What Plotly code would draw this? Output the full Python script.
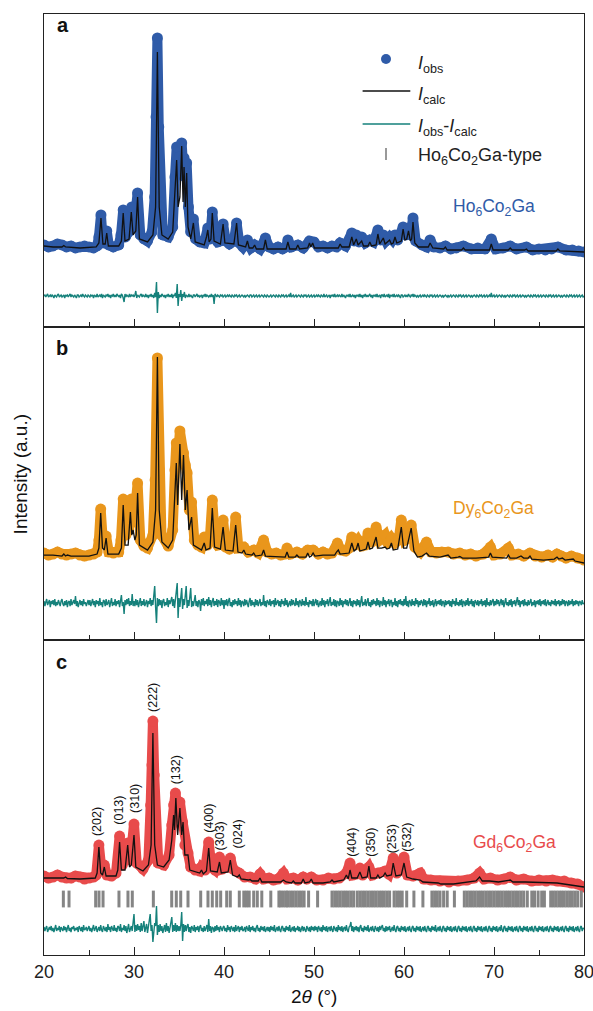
import numpy as np
import plotly.graph_objects as go
from plotly.subplots import make_subplots

# ---------------- data (intensity in arbitrary units) ----------------
calc_a = [(20, 81), (21, 80), (22.0, 80), (22.2, 81.5), (22.4, 80), (24, 79), (25.8, 80), (26.1, 84), (26.33, 109),
          (26.55, 83), (26.8, 83), (26.97, 94), (27.15, 81), (28.3, 81), (28.6, 86), (28.8, 114), (29.0, 86),
          (29.45, 88), (29.7, 115), (29.9, 92), (30.2, 96), (30.4, 130), (30.6, 88), (31.5, 85), (32.1, 92),
          (32.4, 120), (32.6, 275), (32.8, 120), (33.1, 92), (33.8, 88), (34.3, 95), (34.55, 130), (34.74, 167),
          (34.9, 120), (35.1, 130), (35.3, 181), (35.45, 125), (35.56, 160), (35.7, 120), (35.85, 154), (36.0, 100),
          (36.3, 88), (36.6, 104), (36.8, 85), (37.8, 82), (38.05, 90), (38.2, 97), (38.35, 85), (38.55, 88),
          (38.7, 114), (38.9, 86), (39.6, 83), (39.9, 103), (40.1, 84), (41.1, 83), (41.4, 104), (41.6, 82),
          (42.4, 80), (42.6, 86), (42.8, 79), (43.2, 79), (43.4, 82), (43.6, 78), (44.4, 78), (44.6, 87), (44.8, 78),
          (46.9, 78), (47.1, 85), (47.3, 78), (48.0, 78), (48.2, 82), (48.4, 78), (49.3, 79), (49.5, 84),
          (49.65, 80), (49.85, 84), (50.05, 79), (52.7, 79), (52.9, 83), (53.1, 80), (53.9, 80), (54.2, 90),
          (54.4, 82), (54.7, 88), (54.9, 82), (55.3, 86), (55.5, 81), (56.0, 81), (56.2, 85), (56.4, 81), (56.9, 82),
          (57.1, 93), (57.3, 83), (57.7, 89), (57.9, 83), (58.4, 87), (58.6, 83), (58.8, 84), (59.0, 90), (59.2, 84),
          (59.7, 86), (59.9, 98), (60.1, 87), (60.3, 88), (60.5, 96), (60.7, 86), (60.85, 88), (61.0, 105),
          (61.2, 84), (61.6, 80), (62.7, 80), (62.9, 84), (63.2, 79), (64.4, 78), (64.6, 80), (64.8, 77), (66.4, 77),
          (66.6, 79), (66.8, 77), (69.5, 77), (69.7, 83), (69.9, 77), (71.6, 77), (71.8, 79), (72, 77), (73.4, 77),
          (73.6, 78), (73.8, 76), (76.9, 76), (77.1, 78), (77.3, 76), (80, 75)]

obs_a = [(20, 82), (20.5, 80), (21, 81), (21.5, 83), (22, 82), (22.5, 80), (23, 81), (23.5, 79), (24, 80),
         (24.5, 81), (25, 80), (25.5, 79), (25.9, 81), (26.1, 90), (26.33, 112),
         (26.55, 84), (26.97, 96), (27.2, 82), (27.7, 80), (28.3, 82), (28.55, 92), (28.8, 117), (29.05, 90),
         (29.4, 95), (29.75, 120), (30.0, 100), (30.4, 134), (30.7, 92), (31.1, 88), (31.5, 86), (32.0, 95),
         (32.3, 130), (32.45, 210), (32.6, 289), (32.75, 200), (32.9, 120), (33.2, 92), (33.8, 90), (34.3, 100),
         (34.55, 150), (34.74, 180), (34.9, 165), (35.05, 170), (35.3, 184), (35.45, 160), (35.56, 169),
         (35.7, 150), (35.85, 164), (36.05, 120), (36.3, 95), (36.6, 108), (36.85, 88), (37.3, 85), (37.8, 84),
         (38.2, 99), (38.45, 88), (38.7, 115), (38.95, 90), (39.3, 85), (39.6, 86), (39.9, 103), (40.2, 86),
         (40.6, 83), (41.1, 86), (41.4, 104), (41.7, 84), (42.1, 80), (42.6, 87), (43.0, 79), (43.4, 82),
         (44.0, 78), (44.6, 89), (45, 80), (45.5, 78), (46.0, 80), (46.5, 78), (46.9, 80), (47.1, 87), (47.5, 80),
         (48.2, 82), (48.8, 79), (49.5, 86), (50, 85), (50.5, 80), (51.0, 81), (51.5, 79), (52.0, 81),
         (52.5, 80), (52.9, 84), (53.5, 81), (54.2, 94), (54.45, 86), (54.7, 92), (55.0, 85), (55.3, 90),
         (55.7, 84), (56.2, 87), (56.6, 85), (57.1, 97), (57.4, 87), (57.7, 92), (58.0, 86), (58.4, 90),
         (58.7, 87), (59.0, 92), (59.3, 87), (59.9, 100), (60.2, 92), (60.5, 99), (60.75, 92), (61.0, 109),
         (61.3, 86), (62.0, 82), (62.5, 80), (62.9, 87), (63.3, 80), (64.0, 79), (64.6, 81), (65.2, 78),
         (65.8, 79), (66.6, 81), (67.5, 78), (68.2, 79), (69.0, 78), (69.7, 88), (70.2, 78), (71.0, 79),
         (71.8, 81), (72.5, 78), (73.6, 80), (74.3, 77), (75, 78), (75.7, 77), (76.4, 78), (77.1, 80), (78, 77),
         (78.7, 77), (79.4, 76), (80, 75)]

calc_b = [(20, 85), (21, 85), (22, 84), (22.2, 86), (22.4, 84), (22.6, 85), (23, 84), (25, 84), (25.9, 86),
          (26.1, 92), (26.3, 127), (26.5, 92), (26.7, 90), (26.9, 102), (27.1, 86), (28.3, 86), (28.6, 92),
          (28.8, 135), (29.0, 95), (29.35, 95), (29.6, 128), (29.75, 105), (29.9, 110), (30.1, 100), (30.25, 105),
          (30.4, 147), (30.6, 95), (31.5, 90), (32.1, 98), (32.4, 130), (32.6, 283), (32.8, 130), (33.1, 98),
          (33.8, 92), (34.3, 100), (34.55, 140), (34.7, 177), (34.85, 135), (35.1, 196), (35.3, 140), (35.5, 185),
          (35.7, 130), (35.9, 150), (36.1, 110), (36.4, 123), (36.6, 95), (37.5, 90), (37.8, 97), (38.0, 90),
          (38.45, 92), (38.7, 132), (38.95, 93), (39.6, 91), (39.9, 113), (40.15, 90), (41.0, 89), (41.3, 115),
          (41.55, 88), (42.0, 87), (42.2, 90), (42.4, 86), (43.1, 85), (43.3, 87), (43.5, 84), (44.2, 85),
          (44.4, 90), (44.6, 84), (46.8, 83), (47.0, 88), (47.2, 83), (47.9, 83), (48.1, 85), (48.3, 83),
          (49.1, 83), (49.3, 87), (49.5, 83), (49.7, 84), (49.9, 87), (50.1, 84), (51, 85), (52.3, 85), (52.5, 88),
          (52.7, 90), (52.9, 86), (53.9, 87), (54.2, 97), (54.45, 89), (54.7, 91), (54.9, 97), (55.1, 89),
          (55.5, 90), (55.8, 91), (56.0, 98), (56.2, 91), (56.5, 92), (56.9, 103), (57.1, 92), (57.5, 92),
          (57.9, 93), (58.1, 91), (58.4, 92), (58.6, 97), (58.8, 90), (59.3, 91), (59.7, 113), (59.95, 92),
          (60.3, 92), (60.8, 112), (61.1, 89), (61.5, 83), (62.0, 84), (62.5, 87), (62.8, 84), (64.0, 83),
          (64.9, 85), (65.2, 82), (66.0, 83), (66.2, 83.5), (66.5, 82), (68, 82), (69.4, 83), (69.6, 87),
          (69.8, 83), (71.4, 82), (71.6, 85), (71.8, 82), (72.5, 82), (73.0, 84), (73.3, 82), (73.8, 82),
          (74.0, 84), (74.2, 81), (75.5, 80), (76.7, 81), (77.0, 83), (77.2, 81), (77.6, 82), (77.9, 80),
          (78.8, 81), (79, 79), (80, 77)]

obs_b = [(20, 87), (20.5, 85), (21, 86), (21.5, 88), (22, 86), (22.5, 85), (23, 86), (23.5, 87), (24, 85),
         (24.5, 84), (25, 85), (25.5, 86), (25.9, 88), (26.1, 100), (26.3, 131),
         (26.55, 97), (26.9, 104), (27.2, 88), (27.7, 87), (28.3, 88), (28.55, 100), (28.8, 141), (29.1, 105),
         (29.4, 110), (29.7, 141), (30.0, 118), (30.4, 157), (30.7, 100), (31.1, 94), (31.5, 92), (32.1, 105),
         (32.35, 160), (32.6, 282), (32.8, 170), (33.05, 105), (33.8, 94), (34.3, 110), (34.55, 170), (34.7, 197),
         (34.9, 185), (35.1, 209), (35.3, 190), (35.5, 187), (35.7, 175), (35.9, 167), (36.15, 130), (36.4, 138),
         (36.7, 100), (37.1, 95), (37.5, 93), (37.8, 103), (38.15, 95), (38.45, 105), (38.7, 140), (39.0, 100),
         (39.3, 95), (39.6, 96), (39.9, 120), (40.2, 93), (40.6, 91), (41.0, 93), (41.3, 123), (41.6, 92),
         (42.2, 93), (42.7, 88), (43.3, 90), (43.8, 87), (44.4, 100), (44.8, 88), (45.3, 86), (45.8, 87),
         (46.3, 85), (46.8, 86), (47.0, 92), (47.4, 86), (48.1, 88), (48.7, 86), (49.3, 90), (49.9, 90),
         (50.5, 86), (51.0, 88), (51.5, 86), (52.0, 87), (52.6, 97), (53.0, 90), (53.5, 89), (53.9, 92),
         (54.2, 103), (54.5, 95), (54.9, 100), (55.3, 94), (55.7, 95), (56.0, 107), (56.4, 98), (56.9, 113),
         (57.3, 100), (57.9, 105), (58.2, 97), (58.6, 102), (59.0, 97), (59.4, 100), (59.7, 120), (60.1, 100),
         (60.4, 102), (60.8, 115), (61.2, 93), (61.8, 88), (62.5, 98), (63.0, 88), (63.6, 87), (64.2, 88),
         (64.9, 88), (65.5, 86), (66.2, 87), (66.8, 85), (67.4, 86), (68, 84), (68.8, 86), (69.6, 93), (70.0, 85),
         (70.7, 86), (71.6, 92), (72.0, 85), (72.7, 86), (73.3, 84), (74.0, 87), (74.6, 84), (75.3, 83),
         (76.0, 85), (76.5, 83), (77.0, 86), (77.5, 84), (78, 82), (78.6, 84), (79.3, 82), (80, 80)]

calc_c = [(20, 77), (21, 77), (22.2, 77), (22.4, 78), (22.6, 76.5), (24, 76), (25.7, 77), (25.9, 82), (26.1, 108),
          (26.3, 82), (26.5, 80), (26.7, 88), (26.9, 79), (28.0, 79), (28.2, 85), (28.4, 113), (28.6, 85),
          (29.0, 85), (29.3, 110), (29.5, 88), (29.7, 90), (30.0, 120), (30.2, 88), (31.0, 84), (31.6, 90),
          (31.9, 110), (32.1, 222), (32.3, 110), (32.6, 90), (33.3, 88), (33.9, 95), (34.2, 115), (34.4, 140),
          (34.5, 125), (34.65, 157), (34.85, 120), (35.1, 147), (35.3, 120), (35.45, 133), (35.65, 100),
          (36.0, 100), (36.2, 85), (37.3, 82), (37.5, 85), (37.7, 81), (38.05, 84), (38.3, 107), (38.5, 84),
          (39.25, 83), (39.5, 93), (39.7, 82), (40.45, 83), (40.7, 95), (40.95, 80), (41.5, 78), (41.7, 80),
          (41.9, 76), (42.7, 75), (42.9, 75.5), (43.1, 74), (43.8, 74), (44.0, 77), (44.2, 73), (46.3, 73),
          (46.6, 75), (46.9, 73), (47.5, 72), (47.7, 74), (47.9, 72), (48.6, 72), (48.8, 76), (49.0, 72),
          (49.5, 73), (49.7, 76), (49.9, 72), (51.0, 72), (51.8, 73), (52.0, 75), (52.2, 73), (53.3, 75),
          (53.6, 80), (53.8, 76), (54.0, 85), (54.2, 77), (54.8, 77), (55.1, 83), (55.35, 77), (55.9, 78),
          (56.1, 89), (56.3, 77), (56.9, 77), (57.1, 80), (57.3, 77), (57.7, 79), (57.9, 82), (58.1, 79),
          (58.6, 80), (58.8, 92), (59.1, 79), (59.7, 80), (60.0, 92), (60.3, 78), (61.0, 76), (61.8, 75),
          (62.1, 73), (63.8, 72), (64.1, 71), (65.5, 71), (66.5, 72), (68.0, 74), (68.4, 78), (68.7, 74),
          (69.5, 74), (70.5, 73), (71.8, 75), (72.1, 73), (73.5, 73), (75.7, 72), (77.0, 72), (78.5, 70), (80, 68)]

obs_c = [(20, 79), (20.5, 77), (21, 78), (21.5, 80), (22, 78), (22.5, 77), (23, 77), (23.5, 79), (24, 78),
         (24.5, 76), (25, 77), (25.5, 78), (25.8, 80), (26.1, 110), (26.4, 84),
         (26.7, 90), (27.0, 80), (27.5, 79), (28.0, 82), (28.4, 119), (28.7, 90), (29.3, 112), (29.6, 95),
         (30.0, 131), (30.3, 92), (31.0, 86), (31.6, 95), (31.85, 150), (32.0, 190), (32.1, 234), (32.25, 180),
         (32.4, 120), (32.7, 92), (33.3, 90), (33.9, 100), (34.2, 130), (34.4, 150), (34.6, 162), (34.8, 150),
         (35.1, 153), (35.4, 133), (35.65, 110), (36.0, 102), (36.3, 88), (36.8, 85), (37.3, 84), (37.5, 88),
         (37.9, 85), (38.3, 113), (38.6, 88), (39.0, 85), (39.5, 98), (39.8, 86), (40.4, 88), (40.7, 97),
         (41.0, 86), (41.7, 82), (42.3, 78), (42.9, 78), (43.5, 76), (44.0, 81), (44.4, 76), (45.0, 77),
         (45.5, 75), (46.0, 76), (46.6, 82), (47.0, 76), (47.7, 77), (48.2, 75), (48.8, 78), (49.2, 76),
         (49.7, 78), (50.3, 75), (51.0, 75), (51.6, 77), (52.2, 76), (52.8, 77), (53.6, 82), (54.0, 92),
         (54.3, 80), (54.7, 81), (55.1, 87), (55.4, 80), (56.1, 88), (56.5, 80), (57.1, 82), (57.9, 84),
         (58.3, 81), (58.8, 97), (59.2, 82), (60.0, 98), (60.4, 80), (61.0, 79), (61.8, 82), (62.2, 76),
         (63.0, 75), (64, 74), (65.0, 73), (66, 74), (67.0, 75), (67.8, 77), (68.4, 82), (68.9, 76), (69.6, 77),
         (70.4, 75), (71.1, 76), (71.8, 78), (72.5, 75), (73.3, 76), (74.2, 74), (75, 75), (75.8, 74), (76.5, 75),
         (77, 74), (77.8, 74), (78.6, 72), (79.3, 71), (80, 68)]

# difference curves: 0.1 deg steps, one list per 5-deg block (start angle is the key)
diff_a = {
    20: [0, 1, -1, 0, 2, -1, 0, 1, -1, 1, 0, -2, 1, 0, -1, 1, 2, -1, 0, 1, -1, 0, 1, -2, 1, 0, 1, -1, 0, 2, -1, 1, 0, -1, 1, 0, -2, 1, 1, -1, 0, 1, -1, 2, 0, -1, 1, 0, -1, 1],
    25: [0, -1, 1, 0, 1, -2, 1, 0, -1, 2, -1, 0, 1, -1, 2, -2, 1, 0, -1, 1, 0, 2, -1, 1, -2, 1, 0, 2, -1, 1, -1, 2, 0, -1, 1, -2, 2, 1, -2, -6, 2, -1, 1, 0, -1, 2, -1, 1, 0, 1],
    30: [-1, 1, 5, -2, 1, 0, -1, 1, 2, -1, 1, 0, -1, 2, -1, 1, -2, 1, 0, 2, -1, 1, -2, 3, -1, 14, -17, 4, -2, 1, -1, 2, 0, -1, 1, -2, 1, 0, 2, -1, 1, -1, 2, -2, 1, 0, 3, -2, 12, -10],
    35: [2, -1, 6, -5, 2, -1, 4, -2, 1, 0, -1, 2, -1, 1, 0, -2, 1, 1, -1, 0, 2, -1, 1, -1, 0, 1, -2, 1, 0, 2, -1, 1, 0, -1, 1, -1, 2, -1, 1, -8, 2, 0, -1, 1, 0, -1, 1, 0, 1, -1],
    40: [0, 1, -1, 0, 1, -1, 1, 0, -1, 1, 0, -1, 1, 0, 1, -1, 0, 1, -1, 0, 1, 0, -1, 1, -1, 0, 1, 0, -1, 1, 1, -1, 0, 1, -1, 0, 1, -1, 0, 1, -1, 0, 1, 0, -1, 1, 0, -1, 1, 0],
    45: [-1, 0, 1, -1, 0, 1, 0, -1, 1, 0, -1, 1, 0, -1, 1, 0, 1, -1, 0, 1, -1, 0, 1, -1, 3, -1, 0, 1, -1, 0, 1, -1, 0, 1, 0, -1, 1, 0, -1, 1, 0, 1, -1, 0, 1, -1, 0, 1, -1, 0],
    50: [1, -1, 0, 1, -1, 1, 0, -1, 1, 0, -1, 2, -1, 0, 1, -1, 0, 1, -2, 1, 0, 1, -1, 2, -1, 0, 1, -1, 1, 0, -1, 2, -1, 1, 0, -2, 1, 0, 1, -1, 2, -1, 0, 1, -1, 1, -2, 1, 0, 1],
    55: [-1, 2, -1, 1, -2, 1, 0, 2, -1, 1, -1, 0, 2, -1, 1, -2, 1, 0, 1, -1, 2, -1, 0, 1, -2, 1, 1, -1, 2, -1, 0, 1, -1, 2, -2, 1, 0, 1, -1, 2, -1, 0, 1, -1, 1, 0, -2, 1, 1, -1],
    60: [0, 1, -1, 1, -1, 2, 0, -1, 1, 0, 2, -1, 1, 0, -1, 1, -1, 0, 1, -1, 0, 1, -1, 1, 0, -1, 1, 0, -1, 1, 0, 1, -1, 0, 1, -1, 0, 1, -1, 0, 1, 0, -1, 1, -1, 0, 1, 0, -1, 1],
    65: [-1, 0, 1, -1, 0, 1, 0, -1, 1, 0, -1, 1, 0, 1, -1, 0, 1, -1, 0, 1, -1, 0, 1, 0, -1, 1, -1, 0, 1, 0, -1, 1, 0, -1, 1, 0, 1, -1, 0, 1, -1, 0, 1, -1, 0, 1, -1, 3, -1, 0],
    70: [1, -1, 0, 1, -1, 0, 1, 0, -1, 1, 0, -1, 1, -1, 0, 1, 0, -1, 1, 0, -1, 1, 0, 1, -1, 0, 1, -1, 0, 1, -1, 0, 1, 0, -1, 1, -1, 0, 1, 0, -1, 1, 0, -1, 1, 0, 1, -1, 0, 1],
    75: [-1, 0, 1, -1, 0, 1, 0, -1, 1, 0, -1, 1, 0, 1, -1, 0, 1, -1, 0, 1, -1, 0, 1, 0, -1, 1, -1, 0, 1, 0, -1, 1, 0, -1, 1, 0, 1, -1, 0, 1, -1, 0, 1, -1, 0, 1, -1, 0, 1, -1, 0],
}

diff_b = {
    20: [2, -3, 1, 4, -2, 0, 3, -4, 2, -1, 3, -2, 4, -3, 1, -2, 3, 0, -3, 2, 4, -1, -3, 2, -2, 3, -4, 1, 2, -3, 4, -2, 0, 3, -1, 7, -3, 2, -4, 1, 3, -2, 2, -3, 4, -1, 1, -3, 2, 3],
    25: [-2, 3, -3, 1, 4, -2, 2, -4, 3, -1, 2, -3, 5, -2, 1, -4, 3, 2, -3, 4, -2, 0, 3, -4, 2, 5, -3, 1, -2, 4, -3, 2, -1, 3, -4, 2, 8, -3, 1, -11, 3, -2, 4, -1, 5, -3, 2, -2, 9, -3],
    30: [2, -3, 4, -2, 3, -4, 1, 5, -3, 2, -2, 4, -3, 1, 3, -4, 2, -1, 5, -3, 3, -2, 6, 17, -4, -20, 5, -3, 4, -2, 3, -5, 2, 4, -3, 1, -2, 5, -4, 3, -1, 2, 6, -3, 4, -5, 3, 8, 20, -15],
    35: [5, -4, 3, 15, -6, 4, -2, 5, 17, -5, 3, -3, 4, 15, -4, 2, -3, 5, 8, -3, 2, -4, 3, 1, -8, 4, -2, 5, -3, 2, -1, 4, -3, 6, -2, 3, -4, 2, 5, -3, 2, -2, 4, -4, 3, 1, -3, 5, -2, 3],
    40: [-6, 3, -2, 4, -3, 2, 5, -3, 1, -4, 3, -2, 4, -1, 2, -3, 5, -2, 3, -4, 2, 1, -3, 4, -2, 3, -1, -4, 2, 5, -3, 3, -2, 1, -4, 4, -2, 3, -3, 2, 4, -3, 1, -2, 8, -3, 2, -4, 3, 1],
    45: [-2, 4, -3, 2, -1, 3, -4, 5, -2, 1, 3, -3, 2, -4, 4, -1, 2, -3, 5, -2, 3, -4, 1, 2, -3, 4, -2, 3, -1, -3, 5, -2, 2, -4, 3, 1, -3, 4, -2, 2, -3, 6, -2, 1, -4, 3, -1, 2, -3, 4],
    50: [-3, 2, 4, -2, 3, -4, 1, 2, -3, 5, -2, 3, -4, 2, -1, 4, -3, 2, 6, -3, 1, -2, 4, -3, 3, -4, 2, 1, -3, 5, -2, 3, -4, 2, -1, 4, -2, 3, -3, 1, 5, -3, 2, -4, 3, -1, 2, -3, 4, -2],
    55: [3, -4, 2, 7, -3, 1, -2, 4, -3, 2, 5, -3, 1, -4, 3, -2, 4, -1, 2, -3, 5, -2, 3, -4, 2, 1, -3, 6, -2, 3, -4, 2, -1, 4, -3, 2, 3, -4, 1, -2, 5, -3, 2, -4, 3, -1, 4, -2, 2, -3],
    60: [4, -2, 7, -3, 2, -4, 3, 1, -3, 4, -2, 2, -3, 5, -1, 3, -4, 2, -2, 3, 1, -3, 4, -2, 3, -4, 2, -1, 5, -3, 2, -2, 3, -4, 1, 4, -3, 2, -1, 3, -2, 4, -3, 2, 1, -4, 3, -2, 2, -1],
    65: [3, -3, 2, -4, 4, -1, 2, -3, 5, -2, 1, -3, 3, -2, 4, -4, 2, 1, -3, 3, -2, 5, -3, 2, -1, 4, -3, 2, -4, 3, 1, -2, 3, -3, 2, -1, 4, -3, 2, -2, 3, -4, 5, -2, 1, -3, 3, -2, 2, 4],
    70: [-3, 2, -2, 4, -1, 3, -3, 2, 4, -2, 3, -4, 2, 5, -2, 1, -3, 3, -2, 4, -4, 2, -1, 3, -3, 2, 6, -2, 3, -4, 2, -1, 3, -3, 4, -2, 1, -3, 3, -2, 2, 4, -3, 1, -2, 3, -4, 2, -1, 3],
    75: [-2, 4, -3, 2, -1, 3, -2, 4, -3, 2, 3, -2, 1, -3, 3, -1, 2, -2, 4, -3, 2, -1, 3, -3, 2, -2, 4, -1, 3, -3, 2, 1, -3, 3, -2, 2, -1, 4, -3, 2, -2, 3, -1, 2, -3, 2, 1, -2, 3, -1, 0],
}

diff_c = {
    20: [2, -2, 1, 3, -3, 0, 2, -1, 3, -2, 1, -3, 2, 4, -2, 1, -1, 3, -3, 2, 0, -2, 3, -1, 2, -3, 1, 4, -2, 1, -3, 2, 0, 3, -2, 1, -1, 2, -3, 3, 1, -2, 2, -3, 4, -1, 0, 2, -2, 1],
    25: [3, -2, 1, -3, 2, 4, -2, 0, 3, -3, 1, 2, -2, 4, -1, -3, 3, 1, -2, 2, -3, 5, -1, 2, -3, 3, 0, -2, 4, -2, 1, -3, 3, 2, -2, 5, -3, 1, -1, 4, -2, 3, -4, 2, 5, -3, 1, 3, -2, 4],
    30: [15, -3, 4, -2, 5, -1, 3, -3, 6, -2, 4, 8, -3, 2, 5, -4, 3, 6, 15, -2, 4, -13, -5, 6, 3, 23, -6, 4, -3, 5, -2, 3, -4, 2, 4, -3, 6, -2, 3, -4, 2, 5, 12, -3, 4, -2, 6, -3, 4, -2],
    35: [3, -2, 4, 17, -12, 5, -3, 4, -2, 3, 5, -3, 2, -4, 3, 1, -2, 4, -3, 2, -1, 3, -3, 2, 4, -2, 1, -3, 3, -2, 2, 4, -3, 10, -2, 3, -4, 2, 1, -3, 3, -2, 4, -1, 2, -3, 3, 1, -2, 2],
    40: [3, -2, 1, -3, 4, -1, 2, -3, 3, 1, -2, 2, -3, 4, -2, 1, 3, -3, 2, -1, 3, -2, -1, 2, -3, 3, 1, -2, 4, -3, 2, -1, 3, -2, 1, -3, 2, 4, -2, 1, -3, 3, -1, 2, -2, 3, -3, 1, 2, -2],
    45: [2, -3, 3, -1, 2, -2, 4, -3, 1, 2, -2, 3, -1, -3, 2, 3, -2, 1, -3, 3, -1, 2, -2, 4, -3, 1, 2, -2, 3, -3, 1, -1, 3, -2, 2, -3, 1, 3, -2, 2, -1, -3, 3, 1, -2, 2, -3, 3, -1, 2],
    50: [-2, 3, -1, 2, -3, 3, 1, -2, 2, -3, 4, -1, 2, -2, 3, -3, 1, 2, -2, 3, -1, -3, 3, 1, -2, 2, -3, 4, -1, 2, -2, 3, -3, 1, 2, -2, 4, -1, -3, 2, 3, 7, -2, 3, -3, 2, -1, 3, -2, 2],
    55: [-3, 2, 4, -2, 1, -3, 3, -1, 2, -2, 4, -3, 1, 2, -2, 3, -1, -3, 3, 1, -2, 2, -3, 3, -1, 2, 4, -2, 1, -3, 3, -2, 2, -1, 3, -3, 1, 2, -2, 4, -1, -3, 2, 3, -2, 1, -3, 3, -1, 2],
    60: [-2, 3, -3, 1, 2, -2, 3, -1, -3, 2, 3, -2, 1, -3, 3, -1, 2, -2, 3, -3, 1, 2, -2, 3, -1, -3, 2, 3, -2, 1, -3, 3, -1, 2, -2, 4, -3, 1, 2, -2, 3, -1, -3, 2, 3, -2, 1, -3, 3, -1],
    65: [2, -2, 3, -3, 1, 2, -2, 3, -1, -3, 2, 3, -2, 1, -3, 3, -1, 2, -2, 3, -3, 1, 2, -2, 3, -1, -3, 2, 3, -2, 1, -3, 3, -1, 2, -2, 3, -3, 1, 2, -2, 3, -1, -3, 2, 3, -2, 1, -3, 3],
    70: [-1, 2, -2, 3, -3, 1, 2, -2, 4, -1, -3, 2, 3, -2, 1, -3, 3, -1, 2, -2, 3, -3, 1, 2, -2, 3, -1, -3, 2, 3, -2, 1, -3, 3, -1, 2, -2, 3, -3, 1, 2, -2, 3, -1, -3, 2, 3, -2, 1, -3],
    75: [3, -1, 2, -2, 3, -3, 1, 2, -2, 3, -1, -3, 2, 3, -2, 1, -3, 3, -1, 2, -2, 3, -3, 1, 2, -2, 3, -1, -3, 2, 3, -2, 1, -3, 3, -1, 2, -2, 3, -3, 1, 2, -2, 3, -1, -3, 2, 3, -2, 1, 0],
}

bragg_c = [22.15, 22.78, 25.74, 26.11, 26.56, 28.33, 29.33, 29.81, 32.15, 34.19, 34.70, 35.19, 36.0,
           37.41, 38.22, 38.70, 39.19, 39.63, 40.3, 40.7, 41.7, 42.2, 42.5, 42.8, 43.3, 43.7, 44.2, 45.2,
           46.1, 46.3, 46.6, 46.9, 47.1, 47.4, 47.7, 48.0, 48.3, 48.6, 48.9, 49.4, 50.4,
           52.0, 52.3, 52.6, 52.9, 53.2, 53.5, 53.8, 54.1, 54.4, 54.8, 55.1, 55.4, 55.7, 56.0, 56.3, 56.6,
           56.9, 57.2, 57.5, 57.8, 58.1, 58.4, 58.9, 59.2, 59.5, 59.8, 60.3, 61.1, 62.1, 63.1, 63.4, 63.7,
           64.0, 64.4, 64.8, 65.6, 66.7, 67.0, 67.3, 67.6, 67.9, 68.2, 68.5, 68.8, 69.1, 69.4, 69.7, 70.0,
           70.3, 70.6, 70.9, 71.2, 71.5, 71.8, 72.1, 72.4, 72.7, 73.0, 73.3, 73.7, 74.2, 74.5, 74.9, 75.3,
           75.6, 76.3, 76.6, 76.9, 77.2, 77.5, 77.8, 78.1, 78.4, 78.7, 79.0, 79.3, 79.7]

hkl_labels = ["(202)", "(013)", "(310)", "(222)", "(132)", "(400)", "(303)", "(024)",
              "(404)", "(350)", "(253)", "(532)"]
hkl_x = [25.9, 28.3, 30.1, 32.1, 34.7, 38.3, 39.6, 41.6, 54.2, 56.3, 58.7, 60.3]
hkl_y = [133, 145, 157, 258, 185, 137, 119, 121, 113, 113, 116, 118]

samples = ["Ho<sub>6</sub>Co<sub>2</sub>Ga", "Dy<sub>6</sub>Co<sub>2</sub>Ga", "Gd<sub>6</sub>Co<sub>2</sub>Ga"]
panel_letters = ["a", "b", "c"]
x_ticks = [20, 30, 40, 50, 60, 70, 80]
x_minor_ticks = [25, 35, 45, 55, 65, 75]

# ---------------- styles / layout ----------------
FONT = "Arial, Liberation Sans, sans-serif"
obs_colors = ["#2F5BA8", "#E9961C", "#E84B4B"]
calc_color = "#111111"
diff_color = "#15817B"
bragg_color = "#858585"
diff_offsets = [31, 37, 26]
y_ranges = [[0, 313], [0, 313], [0, 315]]
domains = [[0.6674, 1.0], [0.3347, 0.6674], [0.0, 0.3347]]
sample_pos = [(65.2, 119), (65.2, 131), (67.4, 112)]
letter_pos = [(21.2, 302), (21.1, 292), (21.1, 293)]


def block_series(blocks):
    xs, ys = [], []
    for start in sorted(blocks):
        vals = blocks[start]
        xs.extend(start + 0.1 * np.arange(len(vals)))
        ys.extend(vals)
    return np.array(xs), np.array(ys, dtype=float)


fig = make_subplots(rows=3, cols=1, shared_xaxes=True, vertical_spacing=0)

obs_sets = [obs_a, obs_b, obs_c]
calc_sets = [calc_a, calc_b, calc_c]
diff_sets = [diff_a, diff_b, diff_c]

for i in range(3):
    r = i + 1
    ox, oy = zip(*obs_sets[i])
    cx, cy = zip(*calc_sets[i])
    dx, dy = block_series(diff_sets[i])
    fig.add_trace(go.Scatter(x=ox, y=oy, mode="lines+markers",
                             line=dict(color=obs_colors[i], width=10),
                             marker=dict(color=obs_colors[i], size=11),
                             showlegend=False, hoverinfo="skip"), row=r, col=1)
    fig.add_trace(go.Scatter(x=cx, y=cy, mode="lines", line=dict(color=calc_color, width=1.3),
                             showlegend=False), row=r, col=1)
    fig.add_trace(go.Scatter(x=dx, y=dy + diff_offsets[i], mode="lines",
                             line=dict(color=diff_color, width=1.4), showlegend=False), row=r, col=1)

fig.add_trace(go.Scatter(x=bragg_c, y=[56] * len(bragg_c), mode="markers",
                         marker=dict(symbol="line-ns", size=12, line=dict(color=bragg_color, width=3)),
                         showlegend=False), row=3, col=1)

# legend (panel a)
fig.add_trace(go.Scatter(x=[58.0], y=[268], mode="markers", marker=dict(color=obs_colors[0], size=10),
                         showlegend=False), row=1, col=1)
fig.add_trace(go.Scatter(x=[55.4, 60.7], y=[236, 236], mode="lines", line=dict(color=calc_color, width=1.3),
                         showlegend=False), row=1, col=1)
fig.add_trace(go.Scatter(x=[55.4, 60.7], y=[203, 203], mode="lines", line=dict(color=diff_color, width=1.5),
                         showlegend=False), row=1, col=1)
fig.add_trace(go.Scatter(x=[58.0, 58.0], y=[167, 179], mode="lines", line=dict(color="#555555", width=1.2),
                         showlegend=False), row=1, col=1)
legend_texts = ["<i>I</i><sub>obs</sub>", "<i>I</i><sub>calc</sub>",
                "<i>I</i><sub>obs</sub>-<i>I</i><sub>calc</sub>", "Ho<sub>6</sub>Co<sub>2</sub>Ga-type"]
legend_y = [263, 231, 199, 170]
for t, yy in zip(legend_texts, legend_y):
    fig.add_annotation(x=61.3, y=yy, xref="x", yref="y", text=t, showarrow=False, xanchor="left",
                       yanchor="middle", font=dict(family=FONT, size=18, color="#222222"))

# sample names and panel letters
for i in range(3):
    xs = "x" if i == 0 else f"x{i+1}"
    ys = "y" if i == 0 else f"y{i+1}"
    fig.add_annotation(x=sample_pos[i][0], y=sample_pos[i][1], xref=xs, yref=ys, text=samples[i],
                       showarrow=False, xanchor="left", yanchor="middle",
                       font=dict(family=FONT, size=17.5, color=obs_colors[i]))
    fig.add_annotation(x=letter_pos[i][0], y=letter_pos[i][1], xref=xs, yref=ys, text=f"<b>{panel_letters[i]}</b>",
                       showarrow=False, xanchor="left", yanchor="middle",
                       font=dict(family=FONT, size=20, color="#111111"))

for t, xx, yy in zip(hkl_labels, hkl_x, hkl_y):
    fig.add_annotation(x=xx, y=yy, xref="x3", yref="y3", text=t, textangle=-90, showarrow=False,
                       xanchor="center", yanchor="middle",
                       font=dict(family=FONT, size=12.5, color="#111111"))

# axis titles
fig.add_annotation(x=-0.044, y=0.511, xref="paper", yref="paper", text="Intensity (a.u.)", textangle=-90,
                   showarrow=False, xanchor="center", yanchor="middle",
                   font=dict(family=FONT, size=19, color="#111111"))
fig.add_annotation(x=0.5, y=-0.0446, xref="paper", yref="paper", text="2<i>θ</i> (°)", showarrow=False,
                   xanchor="center", yanchor="middle", font=dict(family=FONT, size=19, color="#111111"))

for i in range(3):
    r = i + 1
    fig.update_xaxes(range=[20, 80], showline=True, mirror=True, linecolor="#222222", linewidth=1.3,
                     ticks="inside", ticklen=8, tickwidth=1.2, tickcolor="#222222",
                     tickvals=x_ticks, showgrid=False, zeroline=False,
                     ticklabeloverflow="allow", automargin=False,
                     minor=dict(tickvals=x_minor_ticks, ticks="inside", ticklen=5,
                                tickwidth=1.2, tickcolor="#222222"),
                     showticklabels=(r == 3), tickfont=dict(family=FONT, size=18, color="#222222"),
                     row=r, col=1)
    fig.update_yaxes(range=y_ranges[i], domain=domains[i], showline=True, mirror=True, linecolor="#222222",
                     linewidth=1.3, ticks="", showticklabels=False, showgrid=False, zeroline=False,
                     automargin=False, row=r, col=1)

fig.update_layout(width=593, height=1011, margin=dict(l=44, r=9, t=14, b=56, autoexpand=False),
                  plot_bgcolor="white", paper_bgcolor="white", showlegend=False,
                  font=dict(family=FONT))

fig.write_html("out.html")
